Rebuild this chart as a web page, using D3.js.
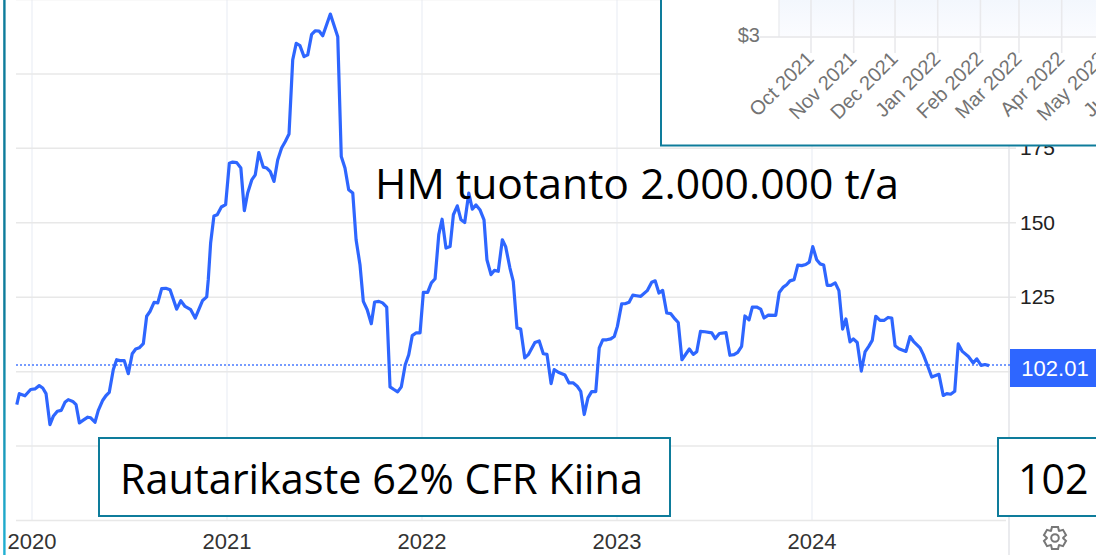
<!DOCTYPE html>
<html>
<head>
<meta charset="utf-8">
<script src="https://cdn.jsdelivr.net/npm/d3@7"></script>
<style>
html, body { margin: 0; padding: 0; background: #fff; }
svg { display: block; }
</style>
</head>
<body>
<div id="chart"></div>
<script>
// Iron ore price (decimal year, USD/t)
const years = [
2019.922,2019.935,2019.964,2019.993,2020.015,2020.037,2020.055,2020.072,2020.092,2020.109,
2020.130,2020.150,2020.169,2020.186,2020.209,2020.226,2020.243,2020.263,2020.286,2020.301,
2020.323,2020.340,2020.363,2020.379,2020.396,2020.417,2020.434,2020.451,2020.473,2020.494,
2020.514,2020.532,2020.550,2020.571,2020.588,2020.605,2020.626,2020.645,2020.665,2020.686,
2020.708,2020.742,2020.763,2020.785,2020.814,2020.837,2020.875,2020.896,2020.904,2020.916,
2020.933,2020.950,2020.971,2020.993,2021.012,2021.029,2021.050,2021.071,2021.089,2021.106,
2021.127,2021.145,2021.163,2021.186,2021.204,2021.222,2021.241,2021.260,2021.280,2021.299,
2021.318,2021.337,2021.355,2021.374,2021.395,2021.414,2021.434,2021.453,2021.472,2021.491,
2021.530,2021.568,2021.586,2021.605,2021.624,2021.645,2021.662,2021.682,2021.699,2021.719,
2021.740,2021.757,2021.779,2021.798,2021.819,2021.836,2021.856,2021.875,2021.894,2021.914,
2021.932,2021.950,2021.969,2021.990,2022.007,2022.029,2022.048,2022.067,2022.086,2022.103,
2022.123,2022.144,2022.161,2022.181,2022.200,2022.219,2022.240,2022.258,2022.277,2022.297,
2022.318,2022.333,2022.354,2022.371,2022.391,2022.412,2022.429,2022.451,2022.468,2022.487,
2022.506,2022.527,2022.545,2022.579,2022.601,2022.622,2022.641,2022.662,2022.678,2022.699,
2022.733,2022.754,2022.776,2022.796,2022.814,2022.832,2022.851,2022.870,2022.891,2022.909,
2022.927,2022.947,2022.968,2022.986,2023.002,2023.024,2023.041,2023.062,2023.081,2023.101,
2023.122,2023.155,2023.178,2023.196,2023.215,2023.234,2023.255,2023.275,2023.297,2023.314,
2023.333,2023.371,2023.391,2023.409,2023.428,2023.451,2023.486,2023.504,2023.525,2023.559,
2023.579,2023.600,2023.619,2023.639,2023.656,2023.677,2023.694,2023.716,2023.737,2023.754,
2023.776,2023.814,2023.832,2023.853,2023.870,2023.887,2023.908,2023.927,2023.947,2023.968,
2023.986,2024.004,2024.024,2024.041,2024.060,2024.078,2024.097,2024.119,2024.138,2024.157,
2024.174,2024.195,2024.212,2024.232,2024.253,2024.272,2024.291,2024.309,2024.327,2024.349,
2024.369,2024.390,2024.409,2024.426,2024.446,2024.482,2024.503,2024.520,2024.554,2024.571,
2024.591,2024.614,2024.651,2024.673,2024.691,2024.711,2024.732,2024.750,2024.771,2024.802,
2024.827,2024.845,2024.867,2024.887,2024.908
];
const prices = [
88.9,92.6,91.9,94.0,94.2,95.3,94.5,92.6,82.2,85.0,
86.7,87.0,89.7,90.6,90.0,88.9,82.8,83.7,84.7,84.5,
83.0,87.0,90.4,91.9,93.0,100.7,104.0,103.7,103.7,99.3,
106.0,107.6,108.0,109.4,118.6,120.2,123.3,123.1,127.9,128.0,
127.5,121.0,123.8,121.9,120.8,118.0,123.9,125.1,130.9,143.2,
152.3,152.7,155.3,156.1,170.0,170.4,170.2,168.4,154.1,160.0,
164.4,166.1,173.6,168.7,168.4,167.2,163.9,171.1,175.1,177.3,
179.8,204.7,210.3,209.5,205.8,206.4,213.3,214.5,214.4,212.8,
220.1,212.5,172.3,168.4,161.1,160.0,144.3,135.9,123.6,120.8,
116.1,123.4,123.6,123.1,121.7,94.9,94.0,93.2,94.9,102.3,
105.7,112.1,113.0,113.0,126.6,126.6,129.8,131.2,146.0,151.2,
141.5,142.0,152.7,155.7,151.0,150.1,160.0,154.6,156.0,154.4,
151.0,137.6,132.6,134.0,133.7,144.3,142.0,134.8,130.3,114.7,
114.3,104.6,105.7,109.8,110.3,106.0,105.8,96.0,100.7,99.8,
98.9,96.2,96.2,95.1,93.4,85.6,91.2,93.3,93.3,108.0,
110.7,110.7,111.0,111.8,115.2,122.8,122.8,123.3,125.7,125.5,
125.3,127.2,130.0,130.5,126.4,127.3,119.7,119.5,117.7,116.5,
104.0,107.6,105.8,106.7,113.5,113.4,113.0,111.1,112.8,113.1,
105.5,105.7,106.5,108.5,118.7,117.4,121.7,121.7,121.0,118.0,
119.0,118.9,126.6,128.4,129.2,130.5,130.9,135.8,135.6,136.0,
136.8,142.0,137.6,136.2,135.8,129.0,129.0,129.8,127.2,114.3,
117.7,110.0,111.0,109.8,100.2,106.6,108.5,110.5,118.6,117.2,
117.2,118.2,118.0,108.7,107.7,106.8,111.8,110.2,108.0,105.7,
102.3,98.2,99.1,92.0,92.6,92.4,93.4,109.3,106.8,105.1,
102.9,104.3,102.1,102.4,102.01
];
const lastPrice = 102.01;
const yearTicks = [2020, 2021, 2022, 2023, 2024];
const priceTicks = [50, 75, 100, 125, 150, 175, 200, 225];
const priceLabels = [75, 125, 150, 175];

// The pasted cost chart in the top right corner
const insetMonths = ["2021-10-01","2021-11-01","2021-12-01","2022-01-01","2022-02-01","2022-03-01","2022-04-01","2022-05-01","2022-06-01"];

const width = 1096, height = 555;
const teal = "#0e7c9b", blue = "#2e66ff";

const svg = d3.select("#chart").append("svg")
  .attr("width", width)
  .attr("height", height)
  .style("font-family", "'Liberation Sans', Arial, sans-serif");

const defs = svg.append("defs");
const fade = defs.append("linearGradient").attr("id", "insetFade")
  .attr("x1", 0).attr("x2", 0).attr("y1", 0).attr("y2", 1);
fade.append("stop").attr("offset", "0%").attr("stop-color", "#f3f7fd");
fade.append("stop").attr("offset", "100%").attr("stop-color", "#fbfcff");

const edge = defs.append("linearGradient").attr("id", "edgeFade")
  .attr("x1", 0).attr("x2", 0).attr("y1", 0).attr("y2", 1);
edge.append("stop").attr("offset", "0%").attr("stop-color", "#0e7c9b");
edge.append("stop").attr("offset", "55%").attr("stop-color", "#0e7c9b");
edge.append("stop").attr("offset", "100%").attr("stop-color", "#22b0d2");

// Scales
const x = d3.scaleLinear().domain([2020, 2024]).range([32, 812]);
const y = d3.scaleLinear().domain([50, 225]).range([520.5, -0.5]);

// Grid
svg.append("g").selectAll("line")
  .data(yearTicks)
  .join("line")
  .attr("x1", d => x(d)).attr("x2", d => x(d))
  .attr("y1", 0).attr("y2", y(50))
  .attr("stroke", "#eff2f7")
  .attr("stroke-width", 1.5);

svg.append("g").selectAll("line")
  .data(priceTicks)
  .join("line")
  .attr("x1", 16).attr("x2", d => d == 50 ? 1006 : 1016)
  .attr("y1", d => y(d)).attr("y2", d => y(d))
  .attr("stroke", "#e8e8e8")
  .attr("stroke-width", 1.5);

svg.append("line")
  .attr("x1", 1009).attr("x2", 1009)
  .attr("y1", 0).attr("y2", height)
  .attr("stroke", "#e3e5e8")
  .attr("stroke-width", 1.5);

// Axis labels
svg.append("g").selectAll("text")
  .data(yearTicks)
  .join("text")
  .attr("x", d => x(d))
  .attr("y", 549)
  .attr("text-anchor", "middle")
  .attr("font-size", 22)
  .attr("fill", "#333")
  .text(d => d);

svg.append("g").selectAll("text")
  .data(priceLabels)
  .join("text")
  .attr("x", 1020)
  .attr("y", d => y(d) + 7)
  .attr("font-size", 21)
  .attr("fill", "#222")
  .text(d => d);

// Last value line and tag
svg.append("line")
  .attr("x1", 16).attr("x2", 1010)
  .attr("y1", 365).attr("y2", 365)
  .attr("stroke", "#4a7bff")
  .attr("stroke-width", 1.5)
  .attr("stroke-dasharray", "2 2");

svg.append("rect")
  .attr("x", 1010).attr("y", 349)
  .attr("width", 86).attr("height", 38)
  .attr("fill", blue);

svg.append("text")
  .attr("x", 1055).attr("y", 376)
  .attr("text-anchor", "middle")
  .attr("font-size", 22)
  .attr("fill", "#fff")
  .text(lastPrice);

// Price line
const line = d3.line()
  .x(d => x(d[0]))
  .y(d => y(d[1]));

svg.append("path")
  .datum(d3.zip(years, prices))
  .attr("fill", "none")
  .attr("stroke", blue)
  .attr("stroke-width", 3.2)
  .attr("stroke-linejoin", "round")
  .attr("d", line);

// Settings gear, 6 teeth
const gearOutline = d3.lineRadial()
  .angle(d => d[0])
  .radius(d => d[1])
  .curve(d3.curveLinearClosed);
const gearPoints = [];
d3.range(6).forEach(i => {
  const a = i * Math.PI / 3;
  gearPoints.push([a - 0.5, 8.2], [a - 0.27, 11.4], [a + 0.27, 11.4], [a + 0.5, 8.2]);
});

const gear = svg.append("g").attr("transform", "translate(1055,538)");
gear.append("path")
  .attr("d", gearOutline(gearPoints))
  .attr("fill", "none").attr("stroke", "#777").attr("stroke-width", 2);
gear.append("circle").attr("r", 3.8)
  .attr("fill", "none").attr("stroke", "#777").attr("stroke-width", 2);

// Inset chart
const inset = svg.append("g");
inset.append("rect")
  .attr("x", 661).attr("y", -5)
  .attr("width", 445).attr("height", 150.5)
  .attr("fill", "#fff")
  .attr("stroke", teal)
  .attr("stroke-width", 2);

const insetDates = insetMonths.map(d => new Date(d + "T00:00:00Z"));
const insetX = d3.scaleUtc()
  .domain([insetDates[0], insetDates[7]])
  .range([811, 1103]);

inset.append("rect")
  .attr("x", 779).attr("y", 0)
  .attr("width", 317).attr("height", 36.5)
  .attr("fill", "url(#insetFade)");

inset.append("line")
  .attr("x1", 779).attr("x2", 779)
  .attr("y1", 0).attr("y2", 37)
  .attr("stroke", "#eceef1")
  .attr("stroke-width", 1.5);

inset.append("line")
  .attr("x1", 760).attr("x2", 1096)
  .attr("y1", 37).attr("y2", 37)
  .attr("stroke", "#e6e6e9")
  .attr("stroke-width", 1.5);

inset.append("g").selectAll("line")
  .data(insetDates)
  .join("line")
  .attr("x1", d => insetX(d)).attr("x2", d => insetX(d))
  .attr("y1", 0).attr("y2", 53)
  .attr("stroke", "#e9e9ec")
  .attr("stroke-width", 1.6);

inset.append("text")
  .attr("x", 760).attr("y", 42)
  .attr("text-anchor", "end")
  .attr("font-size", 20)
  .attr("fill", "#737373")
  .text("$3");

const insetFormat = d3.utcFormat("%b %Y");
inset.append("g").selectAll("text")
  .data(insetDates)
  .join("text")
  .attr("text-anchor", "end")
  .attr("font-size", 20)
  .attr("fill", "#737373")
  .attr("transform", d => "translate(" + (insetX(d) + 4) + ",60) rotate(-45)")
  .text(d => insetFormat(d));

// Annotations pasted over the chart
svg.append("rect")
  .attr("x", 3.2).attr("y", 0)
  .attr("width", 2.4).attr("height", height)
  .attr("fill", "url(#edgeFade)");

function noteBox(bx, by, bw, bh) {
  svg.append("rect")
    .attr("x", bx).attr("y", by)
    .attr("width", bw).attr("height", bh)
    .attr("fill", "#fff")
    .attr("stroke", teal)
    .attr("stroke-width", 2);
}

function noteText(tx, ty, size, label) {
  svg.append("text")
    .attr("x", tx).attr("y", ty)
    .attr("font-family", "'Open Sans', sans-serif")
    .attr("font-size", size)
    .attr("fill", "#000")
    .text(label);
}

noteBox(99, 438, 571, 78);
noteBox(998, 438, 110, 78);
noteText(375, 199, 42.7, "HM tuotanto 2.000.000 t/a");
noteText(120, 494, 41.4, "Rautarikaste 62% CFR Kiina");
noteText(1018, 494, 41.2, "102");
</script>
</body>
</html>
